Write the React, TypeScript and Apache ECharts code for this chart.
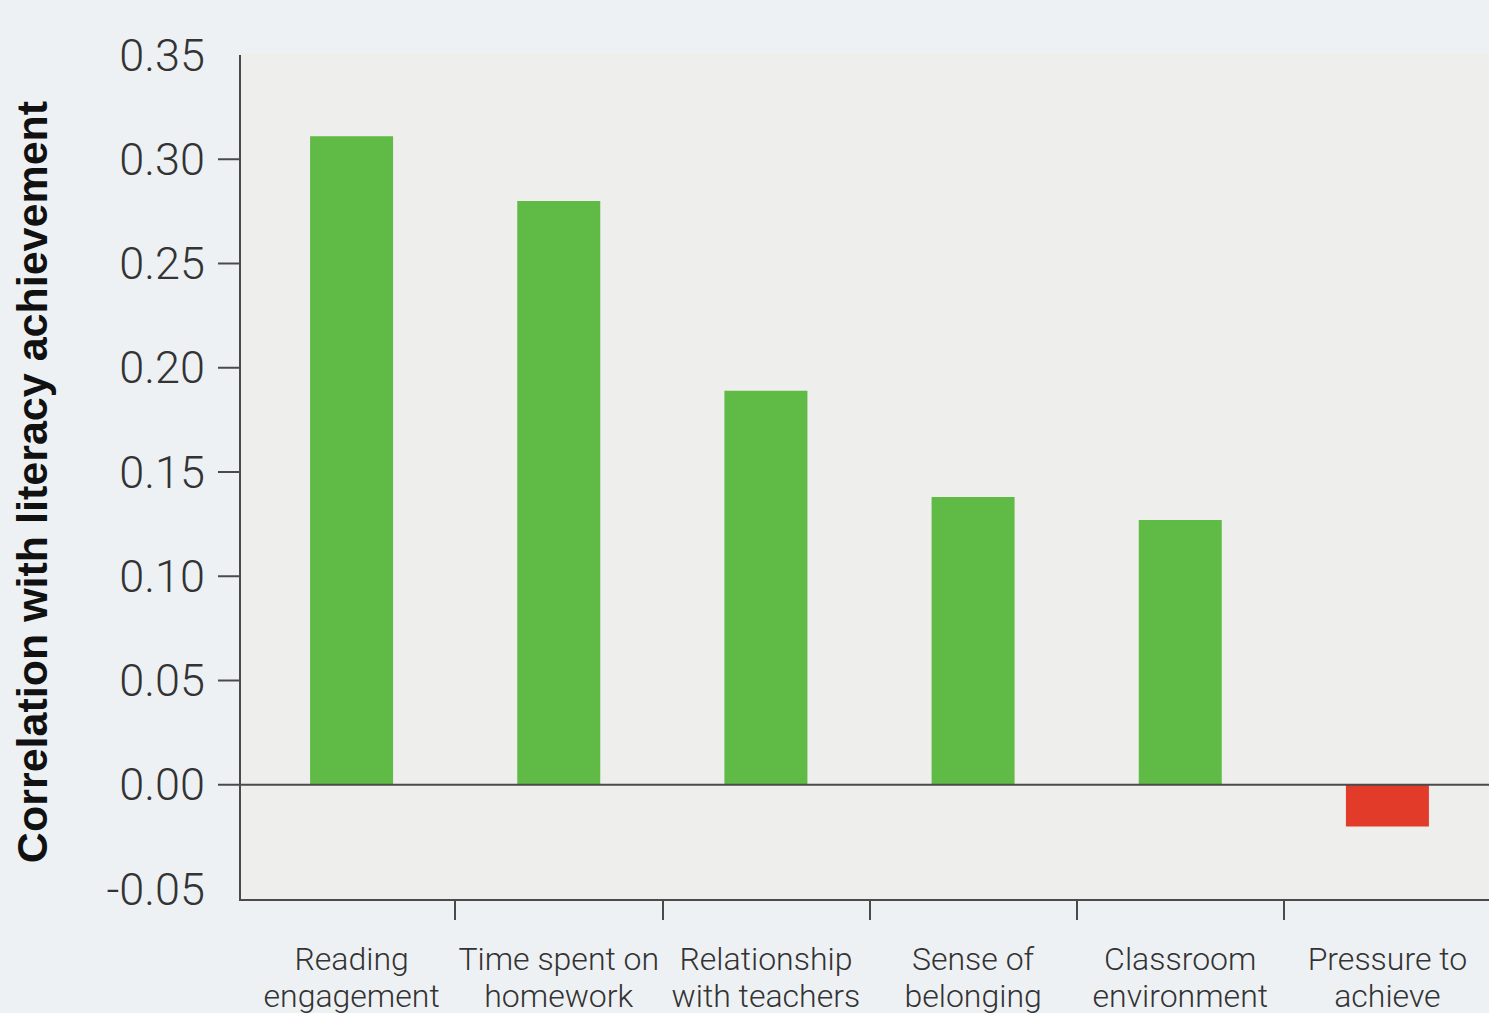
import React, { useEffect, useRef } from "react";
import * as echarts from "echarts";

const categories = [
  "Reading\nengagement",
  "Time spent on\nhomework",
  "Relationship\nwith teachers",
  "Sense of\nbelonging",
  "Classroom\nenvironment",
  "Pressure to\nachieve",
];
const values = [0.311, 0.28, 0.189, 0.138, 0.127, -0.02];
const yTickValues = [0, 0.05, 0.1, 0.15, 0.2, 0.25, 0.3];

const POS = "#5fba46";
const NEG = "#e23b2a";
const AXIS = "#4a4a4a";
const FONT = "Roboto";

export default function App() {
  const ref = useRef<HTMLDivElement>(null);
  useEffect(() => {
    if (!ref.current) return;
    const chart = echarts.init(ref.current, null, { renderer: "svg" });
    chart.setOption({
      animation: false,
      backgroundColor: "#eef1f4",
      grid: {
        left: 248,
        width: 1243,
        top: 55,
        bottom: 124,
        containLabel: false,
        outerBoundsMode: "none",
      },
      graphic: [
        {
          type: "rect",
          z: -10,
          shape: { x: 240, y: 53, width: 1260, height: 847 },
          style: { fill: "#eeeeed" },
        },
        {
          type: "line",
          z: 10,
          shape: { x1: 240, y1: 55, x2: 240, y2: 901 },
          style: { stroke: AXIS, lineWidth: 2 },
        },
        {
          type: "line",
          z: 10,
          shape: { x1: 240, y1: 900, x2: 1489, y2: 900 },
          style: { stroke: AXIS, lineWidth: 2 },
        },
      ],
      xAxis: {
        type: "category",
        data: categories,
        boundaryGap: true,
        offset: 11,
        axisLine: { show: false, onZero: false },
        axisTick: {
          show: true,
          length: 20,
          interval: (i: number) => i > 0,
          lineStyle: { color: AXIS, width: 2 },
        },
        axisLabel: {
          interval: 0,
          margin: 40,
          fontFamily: FONT,
          fontWeight: 300,
          fontSize: 32,
          lineHeight: 37,
          color: "#333",
        },
      },
      yAxis: {
        type: "value",
        min: -0.05,
        max: 0.35,
        interval: 0.05,
        offset: 8,
        axisLine: { show: false },
        axisTick: { show: false },
        splitLine: { show: false },
        axisLabel: {
          margin: 35,
          fontFamily: FONT,
          fontWeight: 300,
          fontSize: 45,
          color: "#333",
          formatter: (v: number) => v.toFixed(2),
        },
        name: "Correlation with literacy achievement",
        nameLocation: "middle",
        nameGap: 187,
        nameTextStyle: {
          fontFamily: "Liberation Sans",
          fontWeight: "bold",
          fontSize: 43,
          color: "#111",
          padding: [0, 20, 0, 0],
        },
      },
      series: [
        {
          type: "bar",
          barWidth: 83,
          z: 2,
          data: values.map((v) => ({
            value: v,
            itemStyle: { color: v < 0 ? NEG : POS },
          })),
        },
        {
          type: "custom",
          clip: false,
          z: 5,
          data: yTickValues.map((v) => [0, v]),
          renderItem: (params: any, api: any) => {
            const cs = params.coordSys;
            const y = api.coord([0, api.value(1)])[1];
            const axisX = 240;
            const x2 = api.value(1) === 0 ? cs.x + cs.width : axisX;
            return {
              type: "line",
              shape: { x1: axisX - 22, y1: y, x2, y2: y },
              style: { stroke: AXIS, lineWidth: 2 },
            };
          },
        },
      ],
    });
    return () => chart.dispose();
  }, []);
  return (
    <div
      ref={ref}
      style={{ position: "absolute", left: 0, top: 0, width: 1489, height: 1013 }}
    />
  );
}
